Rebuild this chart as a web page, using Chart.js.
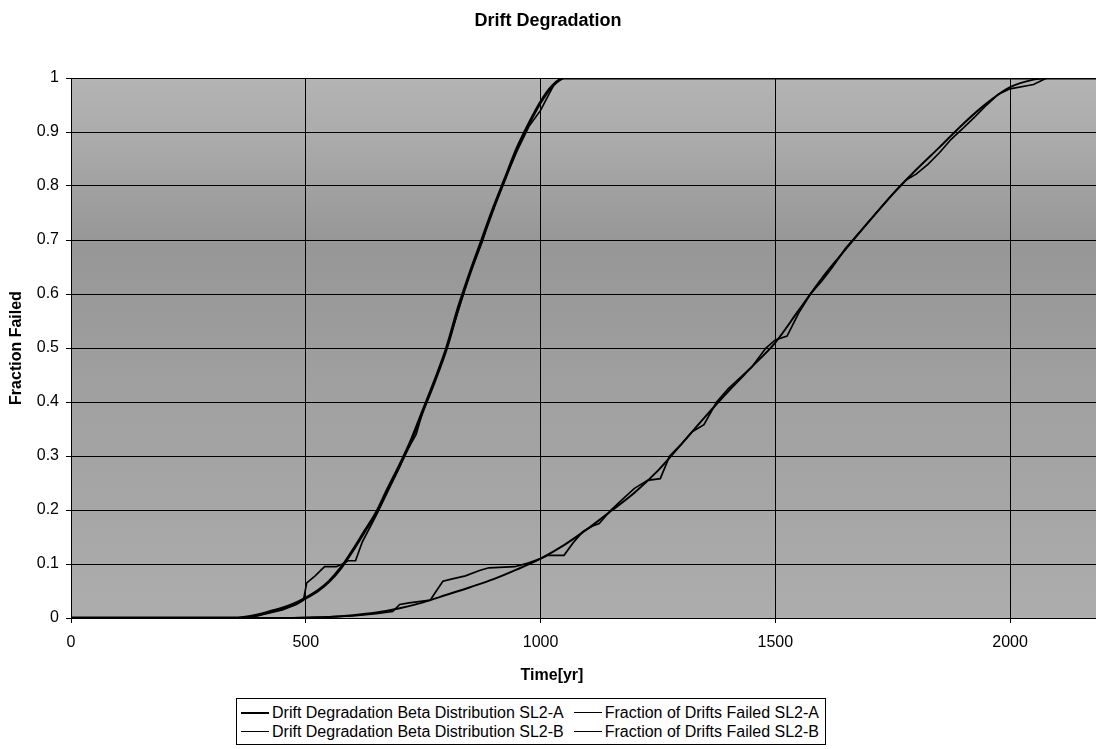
<!DOCTYPE html>
<html><head><meta charset="utf-8">
<script src="https://cdn.jsdelivr.net/npm/chart.js@4.4.0/dist/chart.umd.min.js"></script>
<style>
html,body{margin:0;padding:0;background:#fff;}
#wrap{position:relative;width:1096px;height:749px;}
canvas{display:block;}
#legend{position:absolute;left:236px;top:698px;border:1px solid #000;padding:4px 6px 3px 4px;font:16px "Liberation Sans",Arial,sans-serif;color:#000;display:grid;grid-template-columns:auto auto;column-gap:10px;line-height:19px;background:#fff;}
.item{display:flex;align-items:center;white-space:nowrap;}
.sw{width:28px;margin-right:3px;background:#000;}
</style></head>
<body>
<div id="wrap"><canvas id="c" width="1096" height="749"></canvas><div id="legend"></div></div>
<script>
const chartTitle = 'Drift Degradation';
const xTitle = 'Time[yr]';
const yTitle = 'Fraction Failed';
const seriesLabels = [
  'Drift Degradation Beta Distribution SL2-A',
  'Fraction of Drifts Failed SL2-A',
  'Drift Degradation Beta Distribution SL2-B',
  'Fraction of Drifts Failed SL2-B'
];
const xTicks = [0, 500, 1000, 1500, 2000];
const yTicks = [0, 0.1, 0.2, 0.3, 0.4, 0.5, 0.6, 0.7, 0.8, 0.9, 1];
const xMax = 2183;

const betaA_t = [0,350,375,400,425,450,475,500,525,550,575,600,625,650,675,700,725,750,775,800,825,850,875,900,925,950,975,1000,1025,1050,2183];
const betaA_f = [0,0,0.002,0.006,0.012,0.018,0.026,0.037,0.05,0.068,0.093,0.125,0.16,0.195,0.24,0.283,0.33,0.385,0.44,0.5,0.575,0.64,0.70,0.76,0.815,0.87,0.915,0.955,0.985,1.0,1.0];

const fracA_t = [0,370,400,450,480,495,502,520,540,565,578,590,606,620,650,675,700,712,722,735,750,775,800,825,850,875,890,905,925,950,975,1000,1015,1030,1045,2183];
const fracA_f = [0,0,0.005,0.015,0.025,0.033,0.065,0.078,0.095,0.095,0.1,0.106,0.106,0.14,0.19,0.235,0.28,0.305,0.32,0.34,0.385,0.44,0.5,0.57,0.64,0.695,0.735,0.77,0.815,0.865,0.91,0.94,0.965,0.99,1.0,1.0];

const betaB_t = [0,450,500,550,600,650,700,750,800,850,900,950,1000,1050,1100,1150,1200,1250,1300,1350,1400,1450,1500,1550,1600,1650,1700,1750,1800,1850,1900,1950,2000,2050,2080,2183];
const betaB_f = [0,0,0.001,0.002,0.005,0.01,0.018,0.029,0.043,0.057,0.072,0.09,0.11,0.135,0.165,0.198,0.232,0.273,0.322,0.372,0.42,0.465,0.51,0.57,0.63,0.683,0.735,0.785,0.83,0.872,0.915,0.953,0.983,0.997,1.0,1.0];

const fracB_t = [0,500,550,600,650,685,700,720,765,778,792,810,840,870,890,945,975,1000,1015,1050,1070,1090,1110,1125,1150,1175,1200,1228,1255,1275,1300,1323,1348,1375,1400,1450,1480,1500,1525,1550,1575,1600,1622,1650,1700,1750,1780,1800,1825,1850,1875,1900,1925,1950,1975,2000,2050,2078,2183];
const fracB_f = [0,0,0.002,0.004,0.008,0.012,0.025,0.028,0.033,0.05,0.068,0.072,0.078,0.088,0.093,0.095,0.102,0.11,0.116,0.116,0.14,0.16,0.17,0.175,0.2,0.22,0.24,0.255,0.258,0.3,0.322,0.345,0.358,0.4,0.425,0.465,0.5,0.515,0.522,0.565,0.6,0.625,0.65,0.685,0.735,0.785,0.812,0.822,0.84,0.862,0.887,0.907,0.928,0.95,0.97,0.98,0.988,1.0,1.0];

const toPts = (ts, fs) => ts.map((t, i) => ({x: t, y: fs[i]}));
const FONT = '"Liberation Sans", Arial, sans-serif';
const widths = [3, 1.7, 2, 1.7];
const legendWidths = [2, 1, 1, 1];

const bgPlugin = {
  id: 'bg',
  beforeDraw(chart) {
    const {ctx, chartArea: {left, top, right, bottom}} = chart;
    const g = ctx.createLinearGradient(0, top, 0, bottom);
    g.addColorStop(0, '#b4b4b4');
    g.addColorStop(0.12, '#aaaaaa');
    g.addColorStop(0.3, '#979797');
    g.addColorStop(0.45, '#9b9b9b');
    g.addColorStop(0.6, '#a1a1a1');
    g.addColorStop(0.8, '#a6a6a6');
    g.addColorStop(1, '#adadad');
    ctx.save();
    ctx.fillStyle = g;
    ctx.fillRect(left, top, right - left, bottom - top);
    ctx.restore();
  }
};
const xTitlePlugin = {
  id: 'xtitle',
  afterDraw(chart) {
    const ctx = chart.ctx;
    ctx.save();
    ctx.font = 'bold 16px ' + FONT;
    ctx.fillStyle = '#000';
    ctx.textAlign = 'center';
    ctx.textBaseline = 'middle';
    ctx.fillText(xTitle, 552, 676);
    ctx.restore();
  }
};

new Chart(document.getElementById('c'), {
  type: 'line',
  data: {
    datasets: [
      {label: seriesLabels[0], data: toPts(betaA_t, betaA_f), borderColor: '#000', borderWidth: widths[0], pointRadius: 0, tension: 0.3, cubicInterpolationMode: 'monotone', fill: false},
      {label: seriesLabels[1], data: toPts(fracA_t, fracA_f), borderColor: '#000', borderWidth: widths[1], pointRadius: 0, tension: 0, fill: false},
      {label: seriesLabels[2], data: toPts(betaB_t, betaB_f), borderColor: '#000', borderWidth: widths[2], pointRadius: 0, tension: 0.3, cubicInterpolationMode: 'monotone', fill: false},
      {label: seriesLabels[3], data: toPts(fracB_t, fracB_f), borderColor: '#000', borderWidth: widths[3], pointRadius: 0, tension: 0, fill: false}
    ]
  },
  options: {
    responsive: false,
    animation: false,
    events: [],
    layout: {padding: {left: 0, right: 0, top: 0, bottom: 0}},
    plugins: {
      legend: {display: false},
      tooltip: {enabled: false},
      title: {display: true, text: chartTitle, color: '#000', font: {family: FONT, size: 18, weight: 'bold'}, padding: {top: 10, bottom: 46.4}}
    },
    scales: {
      x: {
        type: 'linear', min: 0, max: xMax,
        afterBuildTicks: s => { s.ticks = xTicks.map(v => ({value: v})); },
        afterFit: s => { s.height = 131; },
        ticks: {color: '#000', font: {family: FONT, size: 16}, padding: 10, maxRotation: 0, callback: v => String(v)},
        grid: {color: '#000', lineWidth: 1, tickLength: 5, drawTicks: true},
        border: {color: '#000', width: 1}
      },
      y: {
        type: 'linear', min: 0, max: 1,
        afterBuildTicks: s => { s.ticks = yTicks.map(v => ({value: v})); },
        afterFit: s => { s.width = 71; },
        ticks: {color: '#000', font: {family: FONT, size: 16}, padding: 7, callback: v => String(v)},
        grid: {color: '#000', lineWidth: 1, tickLength: 5, drawTicks: true},
        border: {color: '#000', width: 1},
        title: {display: true, text: yTitle, color: '#000', font: {family: FONT, size: 16, weight: 'bold'}, padding: {top: 7, bottom: 0}}
      }
    }
  },
  plugins: [bgPlugin, xTitlePlugin]
});

const lg = document.getElementById('legend');
seriesLabels.forEach((lab, i) => {
  const it = document.createElement('div');
  it.className = 'item';
  const sw = document.createElement('span');
  sw.className = 'sw';
  sw.style.height = legendWidths[i] + 'px';
  const tx = document.createElement('span');
  tx.textContent = lab;
  it.appendChild(sw); it.appendChild(tx);
  lg.appendChild(it);
});
</script>
</body></html>
